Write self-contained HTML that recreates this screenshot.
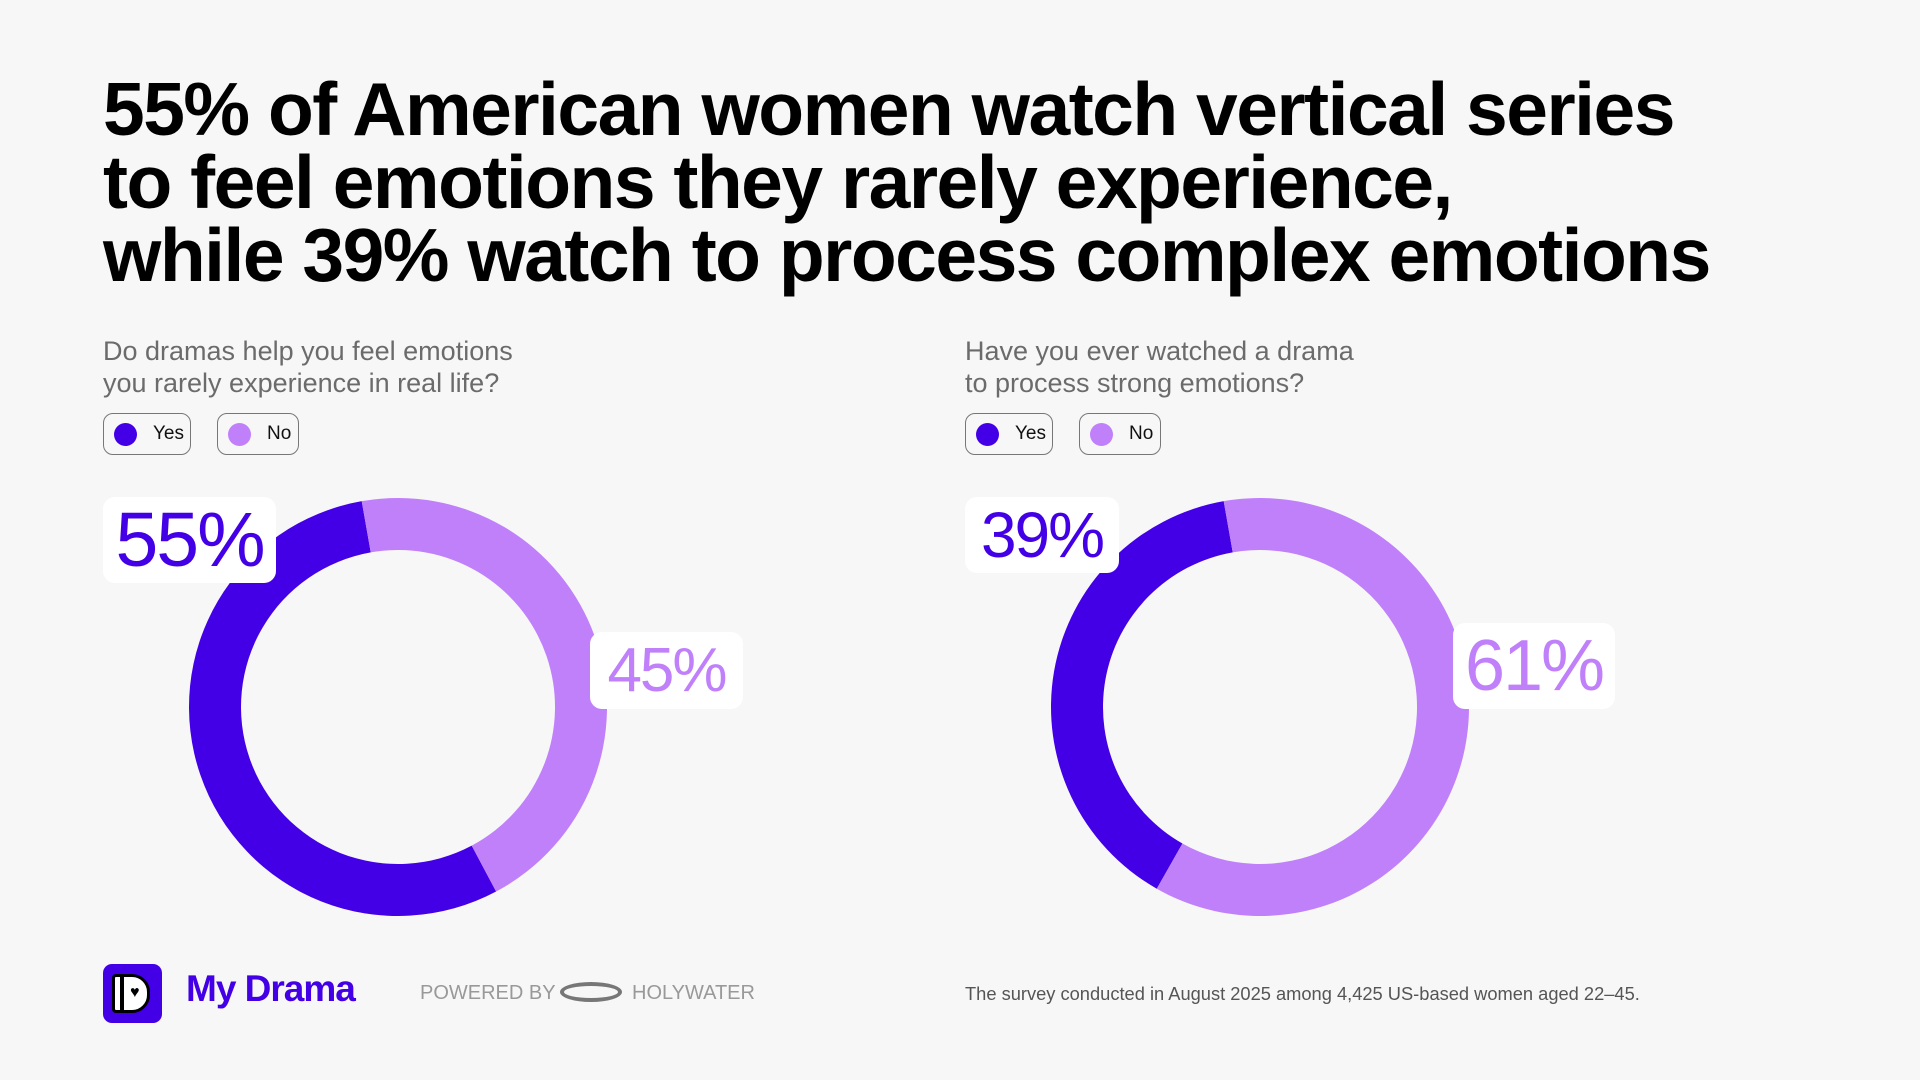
<!DOCTYPE html>
<html><head><meta charset="utf-8">
<style>
html,body{margin:0;padding:0}
body{width:1920px;height:1080px;background:#f7f7f7;position:relative;overflow:hidden;font-family:"Liberation Sans",sans-serif}
.abs{position:absolute}
h1{position:absolute;left:103px;top:73px;margin:0;font-size:75px;line-height:73px;font-weight:700;color:#000;letter-spacing:-1.5px}
.q{position:absolute;top:335px;font-size:27px;line-height:32px;color:#6b6b6b}
.pill{position:absolute;top:413px;height:42px;border:1px solid #777;border-radius:10px;box-sizing:border-box;font-size:19px;color:#111;display:flex;align-items:center}
.dot{width:23px;height:23px;border-radius:50%;margin:0 16px 0 10px}
.lbl{position:absolute;background:#fff;border-radius:12px;font-weight:400;display:flex;align-items:center;justify-content:center;letter-spacing:-2px}
</style></head><body>
<h1>55% of American women watch vertical series<br>to feel emotions they rarely experience,<br>while 39% watch to process complex emotions</h1>

<div class="q" style="left:103px">Do dramas help you feel emotions<br>you rarely experience in real life?</div>
<div class="q" style="left:965px">Have you ever watched a drama<br>to process strong emotions?</div>

<div class="pill" style="left:103px;width:88px"><span class="dot" style="background:#4300e6"></span>Yes</div>
<div class="pill" style="left:217px;width:82px"><span class="dot" style="background:#c080fa"></span>No</div>
<div class="pill" style="left:965px;width:88px"><span class="dot" style="background:#4300e6"></span>Yes</div>
<div class="pill" style="left:1079px;width:82px"><span class="dot" style="background:#c080fa"></span>No</div>

<svg id="donuts" class="abs" style="left:0;top:0" width="1920" height="1080"></svg>

<div class="lbl" style="left:103px;top:497px;width:173px;height:86px;font-size:77px;color:#4300e6"><span id="l1y"></span></div>
<div class="lbl" style="left:590px;top:632px;width:153px;height:77px;font-size:62px;color:#c080fa"><span id="l1n"></span></div>
<div class="lbl" style="left:965px;top:497px;width:154px;height:76px;font-size:64px;color:#4300e6"><span id="l2y"></span></div>
<div class="lbl" style="left:1453px;top:623px;width:162px;height:86px;font-size:72px;color:#c080fa"><span id="l2n"></span></div>

<div class="abs" style="left:103px;top:964px;width:59px;height:59px;background:#4300e6;border-radius:9px">
 <div class="abs" style="left:9px;top:10px;width:38px;height:39px;background:#fff;border:3px solid #000;border-radius:4px 18px 18px 4px;box-sizing:border-box"></div>
 <div class="abs" style="left:17px;top:10px;width:4px;height:39px;background:#000"></div>
 <div class="abs" style="left:27px;top:20px;font-size:16px;color:#000">♥</div>
</div>
<div class="abs" style="left:186px;top:968px;font-size:37px;font-weight:700;color:#4300e6;letter-spacing:-1px">My Drama</div>
<div class="abs" style="left:420px;top:982px;font-size:20px;color:#999">POWERED BY</div>
<div class="abs" style="left:560px;top:982px;width:62px;height:20px;border-radius:50%;border:4px solid #777;box-sizing:border-box"></div>
<div class="abs" style="left:632px;top:982px;font-size:20px;color:#999">HOLYWATER</div>
<div class="abs" style="left:965px;top:983px;font-size:18.3px;color:#555">The survey conducted in August 2025 among 4,425 US-based women aged 22–45.</div>

<script>
const charts = ["left","right"];
const yesValues = [55, 39];
const noValues = [45, 61];
const centersX = [398, 1260];
const cy = 707, rOut = 209, rIn = 157, yesEnd = -10;
const svg = document.getElementById('donuts');
const NS = 'http://www.w3.org/2000/svg';
function pt(r, a, cx){const t=(a-90)*Math.PI/180;return [cx+r*Math.cos(t), cy+r*Math.sin(t)];}
function arc(cx,a0,a1){
  const large=(a1-a0)>180?1:0;
  const p1=pt(rOut,a0,cx),p2=pt(rOut,a1,cx),p3=pt(rIn,a1,cx),p4=pt(rIn,a0,cx);
  return `M${p1}A${rOut},${rOut} 0 ${large} 1 ${p2}L${p3}A${rIn},${rIn} 0 ${large} 0 ${p4}Z`;
}
charts.forEach((c,i)=>{
  const yesDeg = yesValues[i]/100*360, noDeg = noValues[i]/100*360;
  const y = document.createElementNS(NS,'path');
  y.setAttribute('d', arc(centersX[i], yesEnd - yesDeg, yesEnd));
  y.setAttribute('fill','#4300e6');
  
  
  svg.appendChild(y);
  const n = document.createElementNS(NS,'path');
  n.setAttribute('d', arc(centersX[i], yesEnd, yesEnd + noDeg));
  n.setAttribute('fill','#c080fa');
  
  
  svg.appendChild(n);
});
document.getElementById('l1y').textContent = yesValues[0] + '%';
document.getElementById('l1n').textContent = noValues[0] + '%';
document.getElementById('l2y').textContent = yesValues[1] + '%';
document.getElementById('l2n').textContent = noValues[1] + '%';
</script>
</body></html>
